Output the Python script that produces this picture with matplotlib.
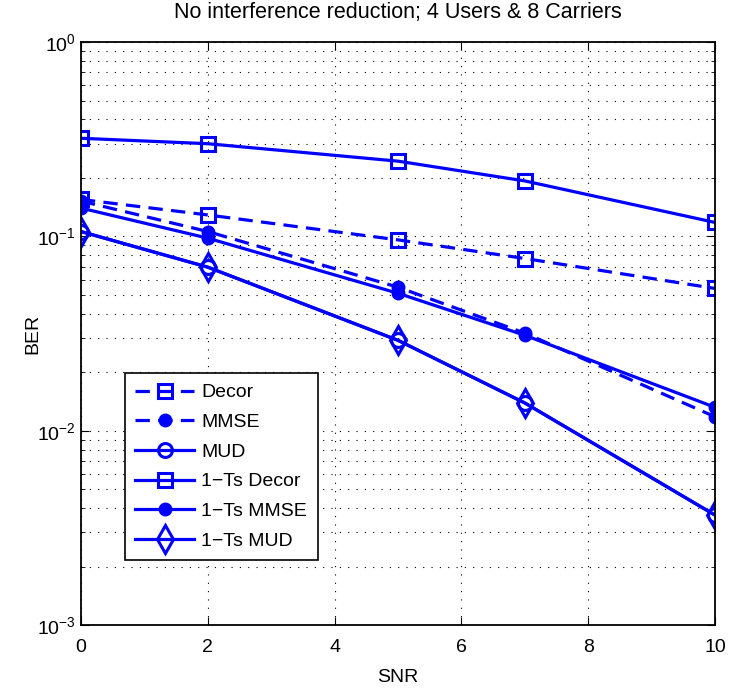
import matplotlib
matplotlib.use('Agg')
import matplotlib.pyplot as plt
from matplotlib.ticker import LogLocator, NullFormatter

plt.rcParams['font.family'] = ['Liberation Sans', 'DejaVu Sans']
plt.rcParams['mathtext.default'] = 'regular'

snr = [0, 2, 5, 7, 10]
ber_decor = [0.155, 0.129, 0.096, 0.077, 0.054]
ber_mmse = [0.152, 0.106, 0.0548, 0.0318, 0.0118]
ber_mud = [0.106, 0.0695, 0.0292, 0.0139, 0.00368]
ber_ts_decor = [0.32, 0.30, 0.244, 0.193, 0.118]
ber_ts_mmse = [0.14, 0.098, 0.051, 0.031, 0.0132]
ber_ts_mud = [0.106, 0.0695, 0.0292, 0.0139, 0.00368]

blue = '#0000ff'
lw = 2.3
dash = (4.5, 2.6)
dots = (0, (1, 6.5))

fig = plt.figure(figsize=(7.29, 6.9), dpi=100)
ax = fig.add_axes([0.111, 0.094, 0.870, 0.845])

ax.semilogy(snr, ber_decor, color=blue, lw=lw, dashes=dash, marker='s', ms=10,
            mfc='none', mew=2.2, label='Decor')
ax.semilogy(snr, ber_mmse, color=blue, lw=lw, dashes=dash, marker='o', ms=9,
            mew=1, label='MMSE')
ax.semilogy(snr, ber_mud, color=blue, lw=lw, marker='o', ms=10,
            mfc='none', mew=2.2, label='MUD')
ax.semilogy(snr, ber_ts_decor, color=blue, lw=lw, marker='s', ms=10,
            mfc='none', mew=2.2, label='1\u2212Ts Decor')
ax.semilogy(snr, ber_ts_mmse, color=blue, lw=lw, marker='o', ms=9,
            mew=1, label='1\u2212Ts MMSE')
ax.semilogy(snr, ber_ts_mud, color=blue, lw=lw, marker='d', ms=14,
            mfc='none', mew=2.2, label='1\u2212Ts MUD')

ax.set_xlim(0, 10)
ax.set_ylim(1e-3, 1)
ax.set_xticks([0, 2, 4, 6, 8, 10])
ax.yaxis.set_major_locator(LogLocator(base=10, numticks=10))
ax.yaxis.set_minor_locator(LogLocator(base=10, subs=range(2, 10), numticks=20))
ax.yaxis.set_minor_formatter(NullFormatter())

ax.grid(True, which='major', linestyle=dots, color='black', lw=0.8)
ax.grid(True, which='minor', axis='y', linestyle=dots, color='black', lw=0.8)
ax.tick_params(which='both', direction='in', top=True, right=True,
               labelsize=14)
ax.tick_params(which='major', length=6)
ax.tick_params(which='minor', length=3)
ax.tick_params(axis='x', pad=10)
for s in ax.spines.values():
    s.set_linewidth(1.3)

ax.set_title('No interference reduction; 4 Users & 8 Carriers', fontsize=15.5, pad=17)
ax.set_xlabel('SNR', fontsize=14, labelpad=9)
ax.set_ylabel('BER', fontsize=14, labelpad=-3)

leg = ax.legend(loc='lower left', bbox_to_anchor=(0.069, 0.111), fontsize=14,
                handlelength=3.0, numpoints=1, fancybox=False, edgecolor='black',
                framealpha=1, borderpad=0.55, labelspacing=0.62, handletextpad=0.4,
                borderaxespad=0)
leg.get_frame().set_linewidth(1.2)

fig.savefig('out.png', dpi=100)
